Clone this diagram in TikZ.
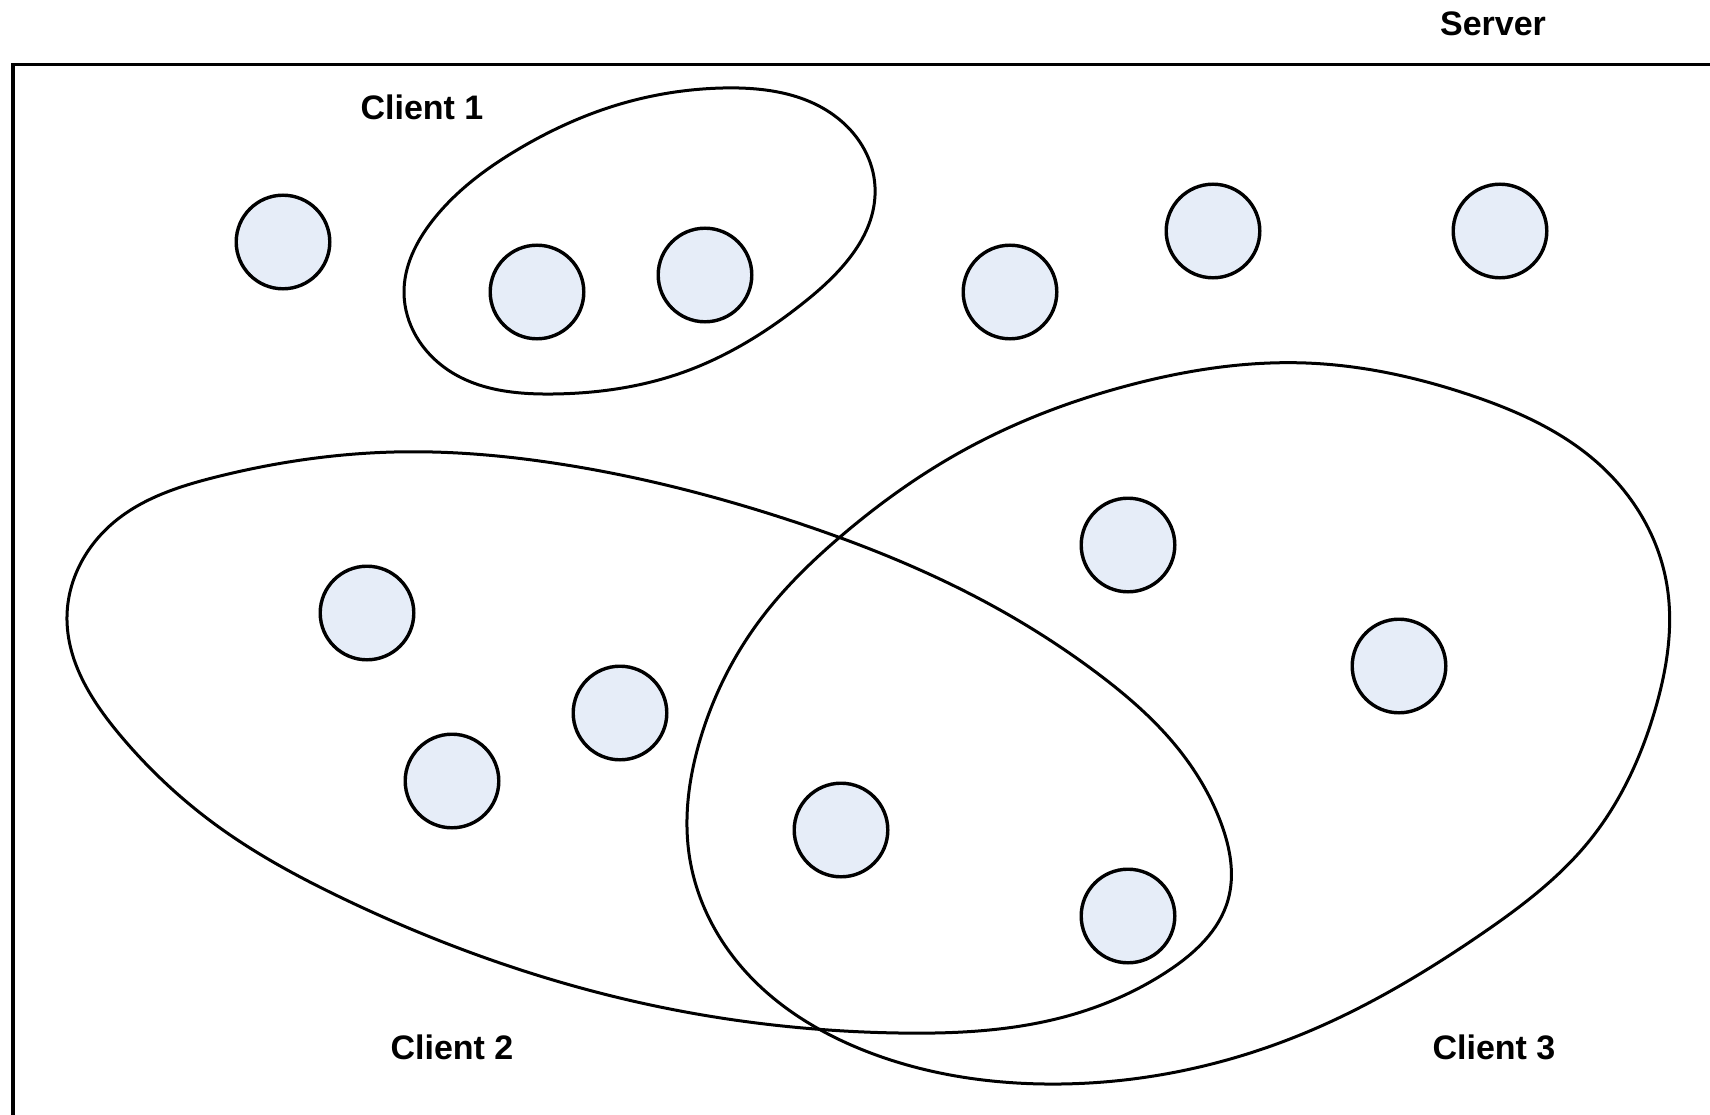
\documentclass[tikz,border=0pt]{standalone}
\usepackage{fontspec}
\setmainfont{Liberation Sans}
\usetikzlibrary{hobby}
\definecolor{dotblue}{RGB}{230,237,248}
\begin{document}
\begin{tikzpicture}[x=1pt,y=-1pt,
  dot/.style={circle,draw=black,line width=3.4pt,fill=dotblue,minimum size=93.6pt,inner sep=0pt},
  ring/.style={draw=black,line width=3pt},
  frame/.style={draw=black,line width=3.2pt},
  lbl/.style={anchor=base,inner sep=0pt,font=\fontsize{34}{40}\selectfont\bfseries}]
\useasboundingbox (0,0) rectangle (1710,1115);
\fill[white] (0,0) rectangle (1710,1115);

% server area: only its left and top edges fall inside the page
\draw[frame] (13,1125) -- (13,64.5) -- (1720,64.5);

% client groups
\draw[ring] plot[closed hobby] coordinates {
  (723,88) (840,120) (875,187) (807,300) (684,372) (553,394)
  (448,370) (404,293) (433,220) (517,150) (617,105)};
\draw[ring] plot[closed hobby] coordinates {
  (67,616) (113,523) (216,477) (394,452) (560,464) (792,521)
  (978,598) (1097,673) (1176,746) (1221,823) (1228,900)
  (1168,971) (1060,1018) (899,1033) (670,1009) (524,971) (342,898)
  (216,825) (120,735)};
\draw[ring] plot[closed hobby] coordinates {
  (1306,363) (1470,395) (1600,465) (1666,580) (1655,710)
  (1590,840) (1480,935) (1300,1035) (1045,1084) (863,1050)
  (745,971) (690,860) (700,740) (760,620) (840,537) (966,449)
  (1130,385)};

% data items
\node[dot] (d1)  at (283,242) {};
\node[dot] (d2)  at (537,292) {};
\node[dot] (d3)  at (705,275) {};
\node[dot] (d4)  at (1010,292) {};
\node[dot] (d5)  at (1213,231) {};
\node[dot] (d6)  at (1500,231) {};
\node[dot] (d7)  at (1128,545) {};
\node[dot] (d8)  at (1399,666) {};
\node[dot] (d9)  at (367,613) {};
\node[dot] (d10) at (620,713) {};
\node[dot] (d11) at (452,781) {};
\node[dot] (d12) at (841,830) {};
\node[dot] (d13) at (1128,916) {};

% labels
\node[lbl] (server)  at (1493,36)  {Server};
\node[lbl] (client1) at (422,120)  {Client 1};
\node[lbl] (client2) at (452,1059) {Client 2};
\node[lbl] (client3) at (1494,1059) {Client 3};
\end{tikzpicture}
\end{document}
